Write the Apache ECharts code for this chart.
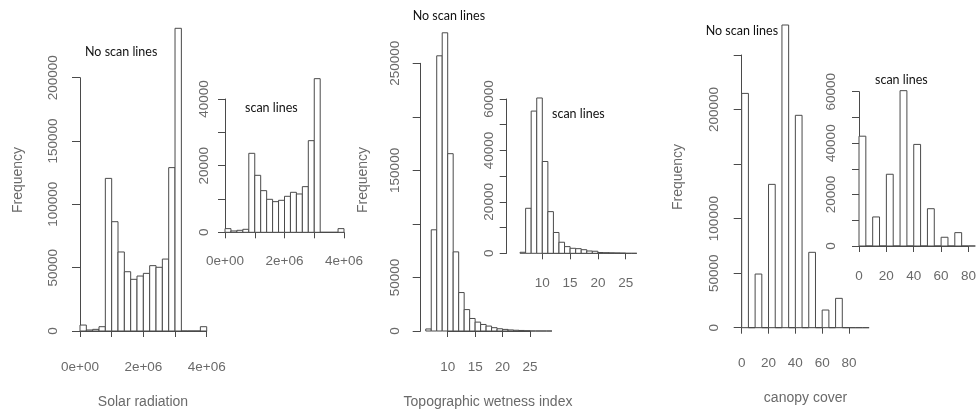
<!DOCTYPE html>
<html>
<head>
<meta charset="utf-8">
<script src="https://cdn.jsdelivr.net/npm/echarts@6/dist/echarts.min.js"></script>
<style>
  html, body { margin: 0; padding: 0; background: #fff; }
  #graph { width: 979px; height: 412px; }
</style>
</head>
<body>
<div id="graph"></div>
<script>
// bin edges (left edges + last right edge)
const solarEdges = [
  0, 200000, 400000, 600000, 800000, 1000000, 1200000, 1400000, 1600000, 1800000,
  2000000, 2200000, 2400000, 2600000, 2800000, 3000000, 3200000, 3400000, 3600000, 3800000,
  4000000,
]
const solarMain = [
  4700, 800, 1300, 3400, 120500, 86300, 62400, 46800, 40800, 43400,
  45500, 51600, 50300, 56800, 129000, 239000, 0, 0, 0, 3400,
]
const solarScan = [
  1100, 400, 600, 900, 23700, 17100, 12500, 9900, 9200, 9600,
  10800, 12000, 11500, 13700, 27500, 46100, 0, 0, 0, 1100,
]

const twiMainEdges = [6, 7, 8, 9, 10, 11, 12, 13, 14, 15, 16, 17, 18, 19, 20, 21, 22, 23, 24, 25, 26, 27, 28, 29]
const twiMain = [
  1900, 94500, 257000, 278500, 165600, 73900, 35900, 20000, 11700, 8300,
  6100, 4600, 3100, 2100, 1500, 1000, 700, 500, 300, 0, 0, 0, 0,
]
const twiScanEdges = [6, 7, 8, 9, 10, 11, 12, 13, 14, 15, 16, 17, 18, 19, 20, 21, 22, 23, 24, 25, 26, 27]
const twiScan = [
  400, 17500, 55300, 60400, 35700, 16200, 8100, 4300, 2600, 1950,
  1800, 1400, 900, 800, 300, 250, 200, 150, 100, 0, 0,
]

const canopyMainEdges = [0, 5, 10, 15, 20, 25, 30, 35, 40, 45, 50, 55, 60, 65, 70, 75, 80, 85, 90, 95]
const canopyMain = [
  214800, 0, 49200, 0, 131400, 0, 277500, 0, 194700, 0,
  69100, 0, 16200, 0, 26900, 0, 0, 0, 0,
]
const canopyScanEdges = [0, 5, 10, 15, 20, 25, 30, 35, 40, 45, 50, 55, 60, 65, 70, 75, 80, 85]
const canopyScan = [
  42700, 0, 11300, 0, 27900, 0, 60400, 0, 39500, 0,
  14500, 0, 3400, 0, 5200, 0, 0,
]

// tick labels (R drops some when they would overlap)
const solarXTicks = [0, 2000000, 4000000]
const solarXText = ['0e+00', '2e+06', '4e+06']
const solarMainY = [0, 50000, 100000, 150000, 200000]
const scanY3 = [0, 20000, 40000]
const twiX = [10, 15, 20, 25]
const twiMainY = [0, 50000, 150000, 250000]
const scanY4 = [0, 20000, 40000, 60000]
const canopyX = [0, 20, 40, 60, 80]
const canopyMainY = [0, 50000, 100000, 200000]

const LINE = '#4a4a4a'
const TXT = '#6a6a6a'
const AXFONT = 'Liberation Sans, Arial, sans-serif'

function bins(edges, counts) {
  return counts.map((c, i) => [edges[i], edges[i + 1], c])
}

function renderBin(params, api) {
  const a = api.coord([api.value(0), api.value(2)])
  const b = api.coord([api.value(1), 0])
  return {
    type: 'rect',
    shape: { x: a[0], y: a[1], width: b[0] - a[0], height: b[1] - a[1] },
    style: { fill: '#fff', stroke: LINE, lineWidth: 1 },
  }
}

function pick(ticks, text) {
  return (v) => {
    const i = ticks.indexOf(v)
    if (i < 0) return ''
    return text ? text[i] : String(v)
  }
}

function xAx(grid, min, max, interval, fmt, offset, margin, tick) {
  return {
    type: 'value', gridIndex: grid, min, max, interval, offset,
    axisLine: { show: true, lineStyle: { color: LINE, width: 1 } },
    axisTick: { show: true, length: tick, lineStyle: { color: LINE } },
    axisLabel: { formatter: fmt, margin, color: TXT, fontSize: 13.5, fontFamily: AXFONT, showMinLabel: true, showMaxLabel: true },
    splitLine: { show: false },
  }
}

function yAx(grid, max, interval, fmt, offset, margin, tick) {
  return {
    type: 'value', gridIndex: grid, min: 0, max, interval, offset,
    axisLine: { show: true, lineStyle: { color: LINE, width: 1 } },
    axisTick: { show: true, length: tick, lineStyle: { color: LINE } },
    axisLabel: { formatter: fmt, margin, rotate: 90, color: TXT, fontSize: 13.5, fontFamily: AXFONT, showMinLabel: true, showMaxLabel: true },
    splitLine: { show: false },
  }
}

function hist(idx, data) {
  return { type: 'custom', xAxisIndex: idx, yAxisIndex: idx, clip: false, renderItem: renderBin, data, silent: true }
}

function note(text, x, y) {
  return {
    type: 'text', x, y,
    style: { text, fill: '#111', font: '12.5px Lato, "Open Sans", sans-serif', textVerticalAlign: 'middle' },
  }
}

function axisTitle(text, x, y, rotate) {
  return {
    type: 'text', x, y, rotation: rotate ? Math.PI / 2 : 0,
    style: { text, fill: TXT, font: '14px ' + AXFONT, textAlign: 'center', textVerticalAlign: 'middle' },
  }
}

echarts.init(document.getElementById('graph')).setOption({
  animation: false,
  backgroundColor: '#fff',
  grid: [
    { left: 80, top: 77.7, width: 126.7, height: 253.3 },
    { left: 225, top: 99, width: 119, height: 133.3 },
    { left: 447.7, top: 63.3, width: 82.3, height: 267.7 },
    { left: 542.3, top: 99, width: 83.4, height: 154.3 },
    { left: 741.7, top: 55, width: 107.3, height: 272.7 },
    { left: 859, top: 91.7, width: 110.3, height: 154.3 },
  ],
  xAxis: [
    xAx(0, 0, 4000000, 1000000, pick(solarXTicks, solarXText), 12, 17, 6),
    xAx(1, 0, 4000000, 1000000, pick(solarXTicks, solarXText), 7, 15, 6),
    xAx(2, 10, 25, 5, pick(twiX), 12.3, 17, 6),
    xAx(3, 10, 25, 5, pick(twiX), 7.7, 15, 6),
    xAx(4, 0, 80, 20, pick(canopyX), 12.3, 16, 6),
    xAx(5, 0, 80, 20, pick(canopyX), 7.3, 16, 6),
  ],
  yAxis: [
    yAx(0, 200000, 50000, pick(solarMainY), 5, 15, 8),
    yAx(1, 40000, 10000, pick(scanY3), 4.3, 9, 7),
    yAx(2, 250000, 50000, pick(twiMainY), 27, 18, 8),
    yAx(3, 60000, 10000, pick(scanY4), 35.6, 10, 7),
    yAx(4, 250000, 50000, pick(canopyMainY), 4.4, 16, 8),
    yAx(5, 60000, 10000, pick(scanY4), 4.7, 16, 7),
  ],
  graphic: [
    note('No scan lines', 85, 52),
    note('scan lines', 245, 108),
    note('No scan lines', 412.7, 16),
    note('scan lines', 552, 114),
    note('No scan lines', 705.7, 30.7),
    note('scan lines', 875, 80),
    axisTitle('Frequency', 18, 180, true),
    axisTitle('Frequency', 363, 180, true),
    axisTitle('Frequency', 678, 177, true),
    axisTitle('Solar radiation', 143, 402),
    axisTitle('Topographic wetness index', 488, 401.7),
    axisTitle('canopy cover', 805.5, 398),
  ],
  series: [
    hist(0, bins(solarEdges, solarMain)),
    hist(1, bins(solarEdges, solarScan)),
    hist(2, bins(twiMainEdges, twiMain)),
    hist(3, bins(twiScanEdges, twiScan)),
    hist(4, bins(canopyMainEdges, canopyMain)),
    hist(5, bins(canopyScanEdges, canopyScan)),
  ],
})
</script>
</body>
</html>
